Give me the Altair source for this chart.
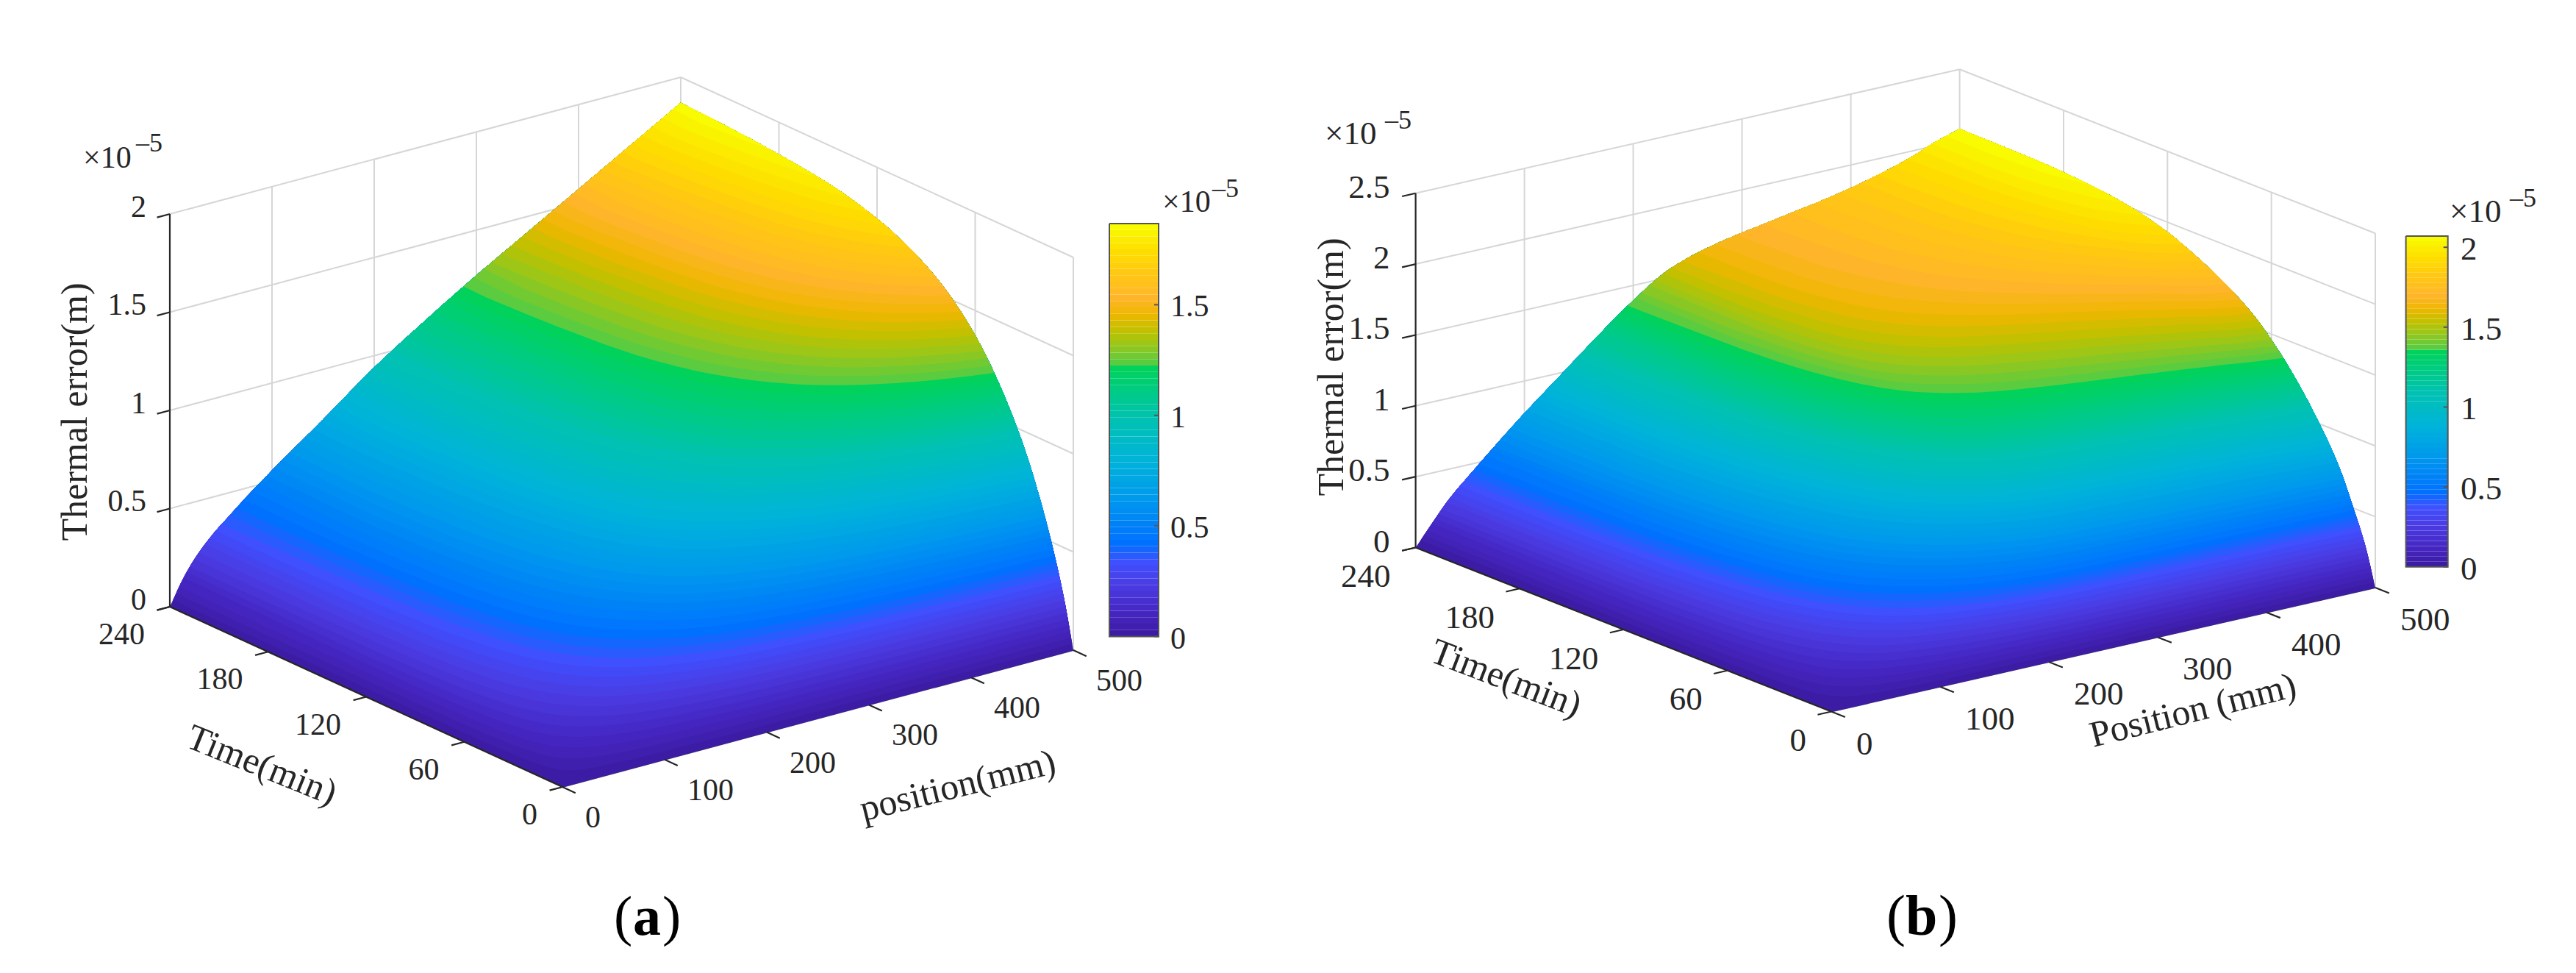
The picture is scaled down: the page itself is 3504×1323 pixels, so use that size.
import numpy as np
import altair as alt

# ---- values ----
pos_a = [0, 13, 25, 42, 60, 75, 100, 150, 200, 250, 300, 350, 400, 450, 500]
err_at_240_a = [0, .125, .215, .31, .39, .455, .555, .745, .94, 1.11, 1.27, 1.42, 1.57, 1.72, 1.87]
time_a = [0, 5, 10, 20, 30, 45, 60, 80, 100, 120, 150, 180, 210, 240]
rise_a = [0, .115, .21, .365, .49, .63, .735, .83, .89, .93, .965, .982, .993, 1]

pos_b = [0, 22, 30, 53, 100, 133, 166, 195, 235, 274, 332, 391, 456, 475, 500]
err_at_240_b = [0, .21, .282, .45, .773, .982, 1.192, 1.366, 1.563, 1.657, 1.74, 1.823, 1.96, 2.02, 2.08]
time_b = [0, 6, 13, 20, 31, 53, 72, 97, 121, 140, 158, 194, 240]
rise_b = [0, .133, .246, .35, .47, .655, .77, .865, .93, .962, .98, .996, 1]

cmap_stops = [0, .05, .12, .18, .225, .33, .43, .53, .6, .65, .66, .7, .74, .78, .82, .88, .93, 1]
cmap_colors = ["#3B1AA0", "#4424BE", "#4A3AE0", "#3F50FF", "#0070FF", "#0098EE", "#00B4D8", "#00C2B0",
               "#00CC80", "#00D25A", "#55CC44", "#90C820", "#C0C000", "#EEB800", "#FFB52A", "#FFC812",
               "#FFDC00", "#F8FF00"]

time_ticks = [0, 60, 120, 180, 240]
pos_ticks = [0, 100, 200, 300, 400, 500]
N_LEVELS = 64
FONT = "Liberation Serif"
INK = "#262626"

panels = [
    dict(pos=pos_a, err=err_at_240_a, time=time_a, rise=rise_a,
         origin=(765, 1070), pvec=(695, -186), tvec=(-534, -245), zscale=267, ztop=2,
         zticks=[0, .5, 1, 1.5, 2], zlabels=["0", "0.5", "1", "1.5", "2"],
         font=42, zlab=(-32, -9.5), tlab=(-34, 38), plab=(31, 42),
         exp=(113, 228, 185, 206), title_size=50,
         ztitle=("Thermal error(m)", 103, 560, 270),
         ttitle=("Time(min)", 356, 1041, 22),
         ptitle=("position(mm)", 1303, 1069, 346),
         bar=(1509, 1576, 304, 865.5), barmax=1.867, barticks=[0, .5, 1, 1.5], barlabels=["0", "0.5", "1", "1.5"],
         barlabel_x=1592, barlabel_dy=3, barexp=(1581, 288, 1649, 268),
         tag=("(", "a", ")", 835, 861, 901, 76)),
    dict(pos=pos_b, err=err_at_240_b, time=time_b, rise=rise_b,
         origin=(2491, 967.5), pvec=(740, -168.5), tvec=(-565.4, -223), zscale=192.7, ztop=2.5,
         zticks=[0, .5, 1, 1.5, 2, 2.5], zlabels=["0", "0.5", "1", "1.5", "2", "2.5"],
         font=45, zlab=(-35, -8), tlab=(-34, 39.5), plab=(34, 44),
         exp=(1802, 196, 1884, 174.6), title_size=50,
         ztitle=("Thermal error(m)", 1812, 499, 270),
         ttitle=("Time(min)", 2048.5, 923, 21),
         ptitle=("Position (mm)", 2983, 966.6, 346),
         bar=(3272.6, 3329.7, 321, 770.7), barmax=2.07, barticks=[0, .5, 1, 1.5, 2], barlabels=["0", "0.5", "1", "1.5", "2"],
         barlabel_x=3347, barlabel_dy=3, barexp=(3332, 302, 3414, 281),
         tag=("(", "b", ")", 2566, 2592, 2637, 78)),
]


def pchip(xn, yn, xq):
    xn, yn = np.asarray(xn, float), np.asarray(yn, float)
    h = np.diff(xn)
    d = np.diff(yn) / h
    m = np.zeros_like(yn)
    m[0], m[-1] = d[0], d[-1]
    for i in range(1, len(xn) - 1):
        if d[i - 1] * d[i] > 0:
            w1, w2 = 2 * h[i] + h[i - 1], h[i] + 2 * h[i - 1]
            m[i] = (w1 + w2) / (w1 / d[i - 1] + w2 / d[i])
    i = np.clip(np.searchsorted(xn, xq, side="right") - 1, 0, len(h) - 1)
    s = (xq - xn[i]) / h[i]
    return ((2 * s**3 - 3 * s**2 + 1) * yn[i] + (s**3 - 2 * s**2 + s) * h[i] * m[i]
            + (-2 * s**3 + 3 * s**2) * yn[i + 1] + (s**3 - s**2) * h[i] * m[i + 1])


def feature(geom_type, coords, **props):
    return {"type": "Feature", "geometry": {"type": geom_type, "coordinates": coords}, "properties": props}


def round_pts(xs, ys):
    return [[round(float(a), 2), round(float(b), 2)] for a, b in zip(xs, ys)]


surface, bars, grid, under_axis, axes, bar_frames = [], [], [], [], [], []
texts = []


def add_text(text, x, y, size, angle=0, align="center", baseline="middle", weight="normal"):
    texts.append(dict(t=text, x=float(x), y=float(y), size=size, angle=angle, align=align,
                      baseline=baseline, weight=weight))


for pn in panels:
    ox, oy = pn["origin"]
    px, py = pn["pvec"]
    tx, ty = pn["tvec"]
    zs = pn["zscale"]

    def proj(p, t, z):
        p, t, z = np.asarray(p, float), np.asarray(t, float), np.asarray(z, float)
        return ox + px * p / 500 + tx * t / 240, oy + py * p / 500 + ty * t / 240 - zs * z

    ps = np.unique(np.concatenate([np.linspace(0, 60, 41), np.linspace(60, 500, 177)]))
    Ps = pchip(pn["pos"], pn["err"], ps)
    ts = np.linspace(0, 240, 961)
    Ts = pchip(pn["time"], pn["rise"], ts)
    tedge = np.unique(np.concatenate([np.linspace(0, 40, 41), np.linspace(40, 240, 81)]))
    Tedge = pchip(pn["time"], pn["rise"], tedge)
    zmax = Ps[-1]

    for k in range(N_LEVELS):
        level = zmax * k / N_LEVELS
        v = (k + .5) / N_LEVELS
        if k == 0:
            x1, y1 = proj(ps, ps * 0, ps * 0)
            x2, y2 = proj(tedge * 0 + 500, tedge, zmax * Tedge)
            x3, y3 = proj(ps[::-1], ps * 0 + 240, Ps[::-1])
        else:
            mask = Ps >= level
            p_iso, P_iso = ps[mask], Ps[mask]
            t_iso = np.interp(level / P_iso, Ts, ts)
            x1, y1 = proj(p_iso, t_iso, p_iso * 0 + level)
            keep = tedge > t_iso[-1]
            x2, y2 = proj(tedge[keep] * 0 + 500, tedge[keep], zmax * Tedge[keep])
            x3, y3 = proj(p_iso[::-1], p_iso * 0 + 240, P_iso[::-1])
        xs, ys = np.concatenate([x1, x2, x3]), np.concatenate([y1, y2, y3])
        ring = round_pts(xs, ys)
        ring.append(ring[0])
        surface.append(feature("Polygon", [ring], v=v))

    # colour bar
    bx0, bx1, by0, by1 = pn["bar"]
    for k in range(N_LEVELS):
        yb = by1 + (by0 - by1) * k / N_LEVELS
        yt = by1 + (by0 - by1) * (k + 1) / N_LEVELS
        bars.append(feature("Polygon", [[[bx0, yb], [bx1, yb], [bx1, yt], [bx0, yt], [bx0, yb]]], v=(k + .5) / N_LEVELS))
    bar_frames.append(feature("LineString", [[bx0, by0], [bx1, by0], [bx1, by1], [bx0, by1], [bx0, by0]]))
    for val, lab in zip(pn["barticks"], pn["barlabels"]):
        yy = by1 + (by0 - by1) * val / pn["barmax"]
        bar_frames.append(feature("LineString", [[bx1 - 6, yy], [bx1, yy]]))
        add_text(lab, pn["barlabel_x"], yy + pn["barlabel_dy"], pn["font"], align="left")

    # walls
    top = pn["ztop"]
    for z in pn["zticks"][1:]:
        a = proj([0, 500], [240, 240], [z, z])
        b = proj([500, 500], [240, 0], [z, z])
        grid.append(feature("LineString", round_pts(*a)))
        grid.append(feature("LineString", round_pts(*b)))
    for p in pos_ticks[1:]:
        grid.append(feature("LineString", round_pts(*proj([p, p], [240, 240], [0, top]))))
    for t in time_ticks[:-1]:
        grid.append(feature("LineString", round_pts(*proj([500, 500], [t, t], [0, top]))))

    # axes and ticks
    under_axis.append(feature("LineString", round_pts(*proj([0, 500], [0, 0], [0, 0]))))
    axes.append(feature("LineString", round_pts(*proj([0, 0], [240, 240], [0, top]))))
    axes.append(feature("LineString", round_pts(*proj([0, 0], [0, 240], [0, 0]))))
    for z, lab in zip(pn["zticks"], pn["zlabels"]):
        axes.append(feature("LineString", round_pts(*proj([0, -12.5], [240, 240], [z, z]))))
        x0, y0 = proj(0, 240, z)
        add_text(lab, x0 + pn["zlab"][0], y0 + pn["zlab"][1], pn["font"], align="right")
    for t in time_ticks:
        axes.append(feature("LineString", round_pts(*proj([0, -12.5], [t, t], [0, 0]))))
        x0, y0 = proj(0, t, 0)
        add_text(str(t), x0 + pn["tlab"][0], y0 + pn["tlab"][1], pn["font"], align="right")
    for p in pos_ticks:
        axes.append(feature("LineString", round_pts(*proj([p, p], [0, -8], [0, 0]))))
        x0, y0 = proj(p, 0, 0)
        add_text(str(p), x0 + pn["plab"][0], y0 + pn["plab"][1], pn["font"], align="left")

    # exponents, titles, panel tag
    for ex in (pn["exp"], pn["barexp"]):
        add_text("×10", ex[0], ex[1], pn["font"], align="left", baseline="alphabetic")
        add_text("–5", ex[2], ex[3], 36, align="left", baseline="alphabetic")
    for key in ("ztitle", "ttitle", "ptitle"):
        s, x, y, ang = pn[key]
        add_text(s, x, y, pn["title_size"], angle=ang)
    o, m, c, x0, x1, x2, size = pn["tag"]
    add_text(o, x0, 1271, size, align="left", baseline="alphabetic")
    add_text(m, x1, 1271, size, align="left", baseline="alphabetic", weight="bold")
    add_text(c, x2, 1271, size, align="left", baseline="alphabetic")

# ---- chart ----
PROJECTION = dict(type="identity", scale=1, translate=[-8, -8])
color_scale = alt.Scale(domain=cmap_stops, range=cmap_colors, interpolate="rgb")


def geo_data(features):
    return alt.InlineData(values={"type": "FeatureCollection", "features": features},
                          format=alt.DataFormat(property="features", type="json"))


def lines(features, color, width):
    return alt.Chart(geo_data(features)).mark_geoshape(filled=False, stroke=color, strokeWidth=width).project(**PROJECTION)


def fills(features):
    return alt.Chart(geo_data(features)).mark_geoshape(strokeWidth=0).encode(
        fill=alt.Fill("properties.v:Q", scale=color_scale, legend=None)).project(**PROJECTION)


layers = [
    lines(grid, "#d6d6d6", 2),
    lines(under_axis, "#3a2a80", 2),
    fills(surface),
    lines(axes, INK, 2.2),
    fills(bars),
    lines(bar_frames, "#555555", 2),
]

groups = {}
for row in texts:
    key = (row["size"], row["angle"], row["align"], row["baseline"], row["weight"])
    groups.setdefault(key, []).append({"t": row["t"], "x": row["x"], "y": row["y"]})
for (size, angle, align, baseline, weight), rows in groups.items():
    layers.append(
        alt.Chart(alt.Data(values=rows)).mark_text(
            font=FONT, fontSize=size, angle=angle, align=align, baseline=baseline,
            fontWeight=weight, color=INK if size < 70 else "#000000"
        ).encode(longitude="x:Q", latitude="y:Q", text="t:N").project(**PROJECTION)
    )

chart = alt.layer(*layers).properties(
    width=3488, height=1307, padding=0, autosize="none", background="white"
).configure_view(stroke=None)

chart.save("out.html", embed_options={"renderer": "svg", "actions": False})
